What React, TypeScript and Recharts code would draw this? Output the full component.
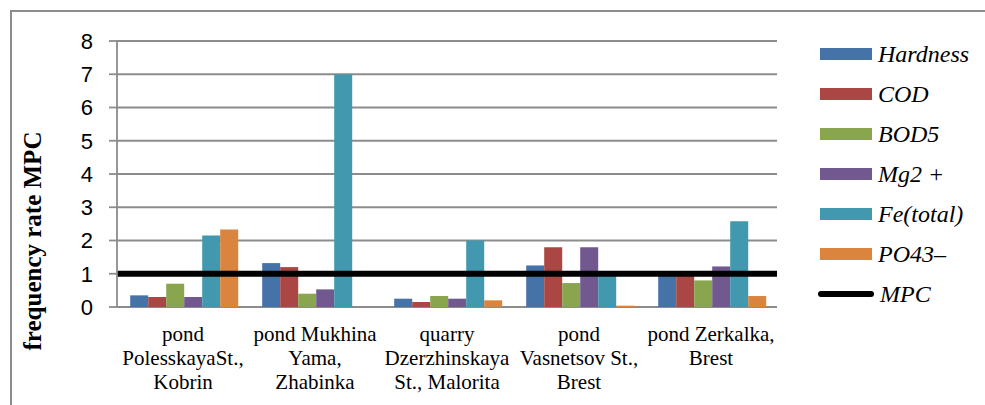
import { BarChart, Bar, XAxis, YAxis, CartesianGrid, ReferenceLine } from 'recharts';

const SITES = [
  'pond\nPolesskayaSt.,\nKobrin',
  'pond Mukhina\nYama,\nZhabinka',
  'quarry\nDzerzhinskaya\nSt., Malorita',
  'pond\nVasnetsov St.,\nBrest',
  'pond Zerkalka,\nBrest',
];

const HARDNESS = [0.35, 1.32, 0.25, 1.25, 0.95];
const COD = [0.3, 1.2, 0.15, 1.8, 0.95];
const BOD5 = [0.7, 0.4, 0.33, 0.72, 0.8];
const MG = [0.3, 0.53, 0.25, 1.8, 1.22];
const FE = [2.15, 7.0, 2.0, 0.97, 2.58];
const PO4 = [2.33, 0, 0.2, 0.04, 0.33];
const MPC = 1;

const Y_TICKS = [0, 1, 2, 3, 4, 5, 6, 7, 8];
const BOUNDS = [0, 1, 2, 3, 4, 5];

const SERIES = [
  { key: 'hardness', name: 'Hardness', color: '#4572A7' },
  { key: 'cod', name: 'COD', color: '#AA4643' },
  { key: 'bod5', name: 'BOD5', color: '#89A54E' },
  { key: 'mg', name: 'Mg2 +', color: '#71588F' },
  { key: 'fe', name: 'Fe(total)', color: '#4198AF' },
  { key: 'po4', name: 'PO43–', color: '#DB843D' },
];

const data = SITES.map((site, i) => ({
  site,
  hardness: HARDNESS[i],
  cod: COD[i],
  bod5: BOD5[i],
  mg: MG[i],
  fe: FE[i],
  po4: PO4[i],
}));

const GRID = '#8c8c8c';
const serif = '"Liberation Serif", "Times New Roman", serif';

function SiteTick({ x, y, payload }: any) {
  const lines = String(payload.value).split('\n');
  return (
    <text x={x} y={y} textAnchor="middle" fontFamily={serif} fontSize={21} fill="#000">
      {lines.map((l, i) => (
        <tspan key={i} x={x} dy={i === 0 ? 26 : 24}>{l}</tspan>
      ))}
    </text>
  );
}

function LegendBox() {
  const rows = [...SERIES.map(s => ({ name: s.name, color: s.color, line: false })), { name: 'MPC', color: '#000', line: true }];
  return (
    <div style={{ position: 'absolute', left: 820, top: 34 }}>
      {rows.map(r => (
        <div key={r.name} style={{ display: 'flex', alignItems: 'center', height: 40 }}>
          <div
            style={{
              width: r.line ? 56 : 52,
              height: r.line ? 6 : 12,
              marginLeft: r.line ? -2 : 0,
              background: r.color,
              borderRadius: r.line ? 3 : 0,
            }}
          />
          <span style={{ marginLeft: 6, fontFamily: serif, fontStyle: 'italic', fontSize: 24, color: '#000' }}>{r.name}</span>
        </div>
      ))}
    </div>
  );
}

export default function App() {
  return (
    <div style={{ position: 'absolute', left: 0, top: 0, width: 985, height: 405, background: '#fff', overflow: 'hidden' }}>
      <div style={{ position: 'absolute', left: 10, top: 10, width: 990, height: 410, borderTop: `2px solid ${GRID}`, borderLeft: `2px solid ${GRID}` }} />
      <div
        style={{
          position: 'absolute',
          left: 33,
          top: 241,
          transform: 'translate(-50%, -50%) rotate(-90deg)',
          whiteSpace: 'nowrap',
          fontFamily: serif,
          fontWeight: 'bold',
          fontSize: 25,
          color: '#000',
        }}
      >
        frequency rate MPC
      </div>
      <BarChart
        width={985}
        height={405}
        data={data}
        margin={{ top: 41, right: 208, left: 0, bottom: 0 }}
        barCategoryGap="10%"
        barGap={0}
        style={{ position: 'absolute', left: 0, top: 0 }}
      >
        <CartesianGrid vertical={false} stroke={GRID} strokeWidth={1.8} />
        <XAxis
          xAxisId="b"
          type="number"
          domain={[0, 5]}
          ticks={BOUNDS}
          height={0}
          tick={false}
          tickSize={7}
          stroke={GRID}
          strokeWidth={1.8}
        />
        <XAxis xAxisId="cat" dataKey="site" height={98} axisLine={false} tickLine={false} interval={0} tick={<SiteTick />} />
        <YAxis
          domain={[0, 8]}
          ticks={Y_TICKS}
          width={117}
          tickSize={8}
          tickMargin={16}
          stroke={GRID}
          strokeWidth={1.8}
          tick={{ fill: '#000', fontSize: 22, fontFamily: '"Liberation Sans", Arial, sans-serif' }}
        />
        {SERIES.map(s => (
          <Bar key={s.key} xAxisId="cat" dataKey={s.key} name={s.name} fill={s.color} isAnimationActive={false} />
        ))}
        <ReferenceLine xAxisId="cat" y={MPC} stroke="#000" strokeWidth={6} />
      </BarChart>
      <LegendBox />
    </div>
  );
}
